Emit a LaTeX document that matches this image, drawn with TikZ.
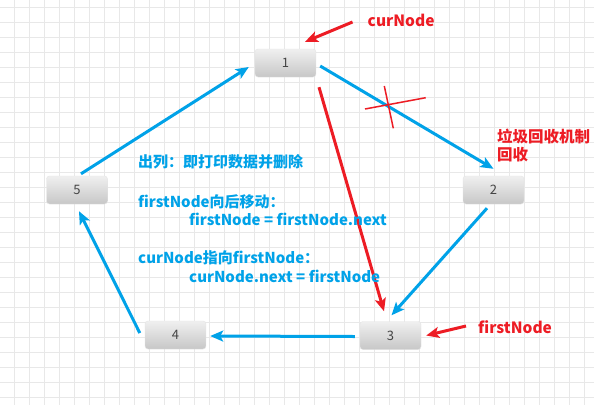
\documentclass[tikz,border=0pt]{standalone}
\usepackage{fontspec}
\setmainfont{Noto Sans CJK SC}
\usetikzlibrary{arrows.meta,calc}
\definecolor{pblue}{HTML}{00A2E8}
\definecolor{pred}{HTML}{ED1C24}
\definecolor{gridc}{HTML}{E8E8E8}
\definecolor{numc}{HTML}{444444}
\tikzset{
  qnode/.style={rounded corners=3pt, top color=black!6, bottom color=black!22, draw=black!10, line width=0.4pt,
    minimum width=61pt, minimum height=28pt, inner sep=0pt, text=numc, font=\fontsize{13}{13}\selectfont},
  barrow/.style={draw=pblue, line width=3pt, -{Stealth[length=13pt,width=11pt,inset=3pt]}},
  rarrow/.style={draw=pred, line width=3pt, -{Stealth[length=13pt,width=11pt,inset=3pt]}},
  rlabel/.style={text=pred, font=\fontsize{15.5}{15.5}\selectfont\bfseries, inner sep=0pt, anchor=west},
  btext/.style={text=pblue, font=\fontsize{15}{18}\selectfont\bfseries, inner sep=0pt, anchor=west},
}
\begin{document}
\begin{tikzpicture}[x=1pt,y=-1pt]
\useasboundingbox (0,0) rectangle (594,405);
\fill[white] (0,0) rectangle (594,405);
\foreach \i in {0,...,39} { \draw[gridc, line width=0.8pt] ({14.5+15*\i},0) -- ({14.5+15*\i},405); }
\foreach \j in {0,...,26} { \draw[gridc, line width=0.8pt] (0,{7.5+15*\j}) -- (594,{7.5+15*\j}); }

\node[qnode] (n1) at (285.5,63) {1};
\node[qnode] (n2) at (493.5,190) {2};
\node[qnode] (n3) at (390.5,335.5) {3};
\node[qnode] (n4) at (175.5,335) {4};
\node[qnode] (n5) at (77,190) {5};

\draw[barrow] ([xshift=4pt,yshift=-3pt]n1.east) -- ([yshift=7pt]n2.north);
\draw[barrow] ([xshift=-6.5pt,yshift=-4pt]n2.south) -- ([xshift=1pt,yshift=6pt]n3.north);
\draw[barrow] ([xshift=-5pt,yshift=-1pt]n3.west) -- ([xshift=4pt,yshift=-1pt]n4.east);
\draw[barrow] ([xshift=-5pt,yshift=2pt]n4.west) -- ([xshift=2pt,yshift=-7pt]n5.south);
\draw[barrow] ([xshift=4pt,yshift=2pt]n5.north) -- ([xshift=-6pt,yshift=-4pt]n1.west);

\draw[rarrow] ([xshift=33.5pt,yshift=-10pt]n1.south) -- ([xshift=-6.5pt,yshift=10pt]n3.north);

\node[rlabel] (cur) at (367.5,20) {curNode};
\draw[rarrow] ([xshift=-15pt,yshift=-2pt]cur.west) -- ([xshift=19.5pt,yshift=7pt]n1.north);

\node[rlabel] (first) at (478,327) {firstNode};
\draw[rarrow] ([xshift=-12pt,yshift=1pt]first.west) -- ([xshift=5pt,yshift=0pt]n3.east);

\coordinate (xa1) at (365,109);
\coordinate (xa2) at (425.7,97.7);
\coordinate (xb1) at (384.3,86);
\coordinate (xb2) at (393.3,128.3);
\draw[pred, line width=1.5pt] (xa1) -- (xa2);
\draw[pred, line width=1.5pt] (xb1) -- (xb2);

\node[rlabel] (gc1) at (497,136.5) {垃圾回收机制};
\node[rlabel] (gc2) at (497,155) {回收};

\node[btext] (t1) at (138,161.5) {出列：即打印数据并删除};
\node[btext] (t2) at (138,201.5) {firstNode向后移动：};
\node[btext] (t3) at (189,219) {firstNode = firstNode.next};
\node[btext] (t4) at (138,258) {curNode指向firstNode：};
\node[btext] (t5) at (189,276.5) {curNode.next = firstNode};
\end{tikzpicture}
\end{document}
